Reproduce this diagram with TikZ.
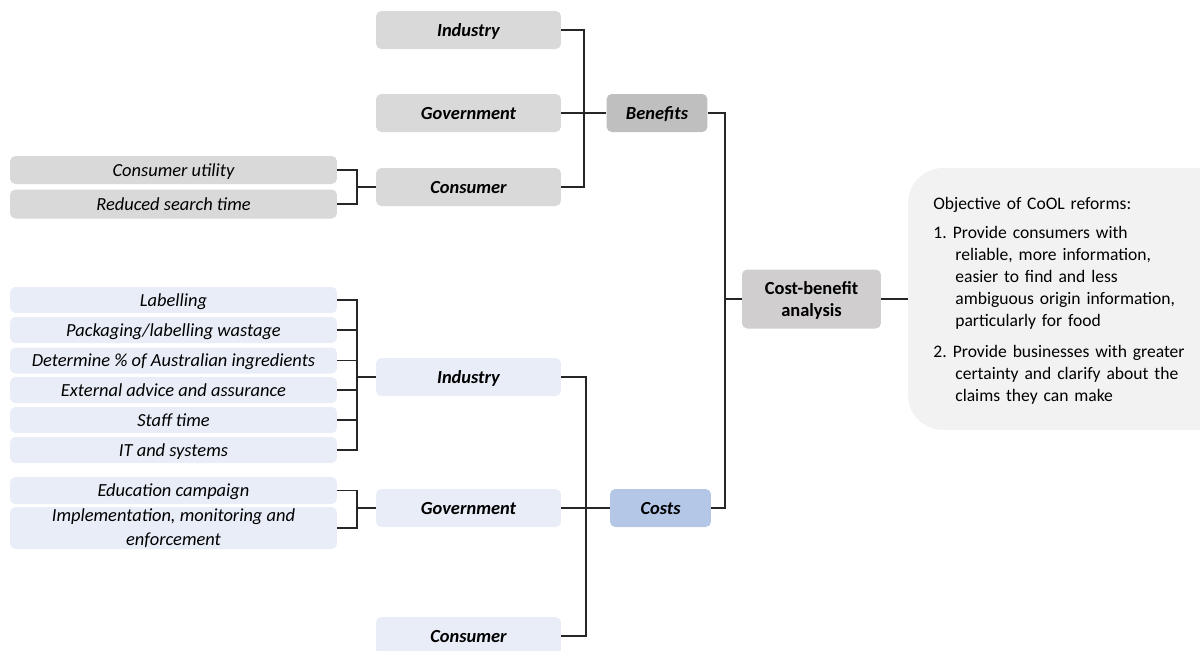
\documentclass[tikz,border=0pt]{standalone}
\usepackage{fontspec}
\setmainfont{Carlito}
\usepackage{tikz}

\definecolor{bengray}{HTML}{D9D9D9}
\definecolor{benhead}{HTML}{BFBFBF}
\definecolor{cbagray}{HTML}{D0CECE}
\definecolor{costblue}{HTML}{E8EDF7}
\definecolor{costhead}{HTML}{B4C7E7}
\definecolor{objgray}{HTML}{F2F2F2}

\newcommand{\cbsize}{\fontsize{10.5}{12.5}\selectfont}
\newcommand{\objsize}{\fontsize{10}{12.5}\selectfont}

\tikzset{
  cbox/.style={rounded corners=3pt, inner sep=0pt, align=center},
  grpbox/.style={cbox, minimum width=3.7cm, minimum height=0.76cm, text height=0.27cm, text depth=0pt, font=\cbsize\bfseries\itshape},
  headbox/.style={grpbox, minimum width=2.02cm},
  wideitem/.style={cbox, minimum width=6.54cm, minimum height=0.52cm, font=\cbsize\itshape},
  itembox/.style={wideitem, text height=0.24cm, text depth=0pt},
  link/.style={line width=0.6pt, black!85},
}

\begin{document}
\begin{tikzpicture}[x=0.02cm, y=-0.02cm]
\useasboundingbox (0,0) rectangle (1200,650);
\clip (0,0) rectangle (1200,650);

% benefits side
\node[grpbox, fill=bengray] (bind) at (468.5,30) {Industry};
\node[grpbox, fill=bengray] (bgov) at (468.5,113) {Government};
\node[grpbox, fill=bengray] (bcon) at (468.5,187) {Consumer};
\node[headbox, fill=benhead] (ben) at (657,113) {Benefits};
\node[itembox, fill=bengray, minimum height=0.56cm] (bu1) at (173.5,170) {Consumer utility};
\node[itembox, fill=bengray, minimum height=0.58cm] (bu2) at (173.5,204) {Reduced search time};

% costs side
\node[itembox, fill=costblue] (ci1) at (173.5,300) {Labelling};
\node[itembox, fill=costblue] (ci2) at (173.5,330) {Packaging/labelling wastage};
\node[itembox, fill=costblue] (ci3) at (173.5,360.5) {Determine \% of Australian ingredients};
\node[itembox, fill=costblue] (ci4) at (173.5,390) {External advice and assurance};
\node[itembox, fill=costblue] (ci5) at (173.5,420) {Staff time};
\node[itembox, fill=costblue] (ci6) at (173.5,450) {IT and systems};
\node[itembox, fill=costblue, minimum height=0.54cm] (gi1) at (173.5,490.5) {Education campaign};
\node[wideitem, fill=costblue, minimum height=0.84cm, font=\fontsize{10.5}{14}\selectfont\itshape] (gi2) at (173.5,528) {Implementation, monitoring and\\enforcement};
\node[grpbox, fill=costblue] (cind) at (468.5,377) {Industry};
\node[grpbox, fill=costblue] (cgov) at (468.5,508) {Government};
\node[grpbox, fill=costblue] (ccon) at (468.5,636) {Consumer};
\node[headbox, fill=costhead] (cost) at (660.5,508) {Costs};

% analysis and objective
\node[cbox, fill=cbagray, minimum width=2.78cm, minimum height=1.18cm, font=\cbsize\bfseries] (cba) at (811.5,299) {\rule{0pt}{9pt}Cost-benefit\\analysis};
\node[fill=objgray, rounded corners=0.7cm, minimum width=6.64cm, minimum height=5.24cm, inner sep=0pt] (obj) at (1074,299) {};
\node[anchor=base west, text width=5.6cm, align=left, inner sep=0pt, font=\objsize] (objtext) at (933,209) {%
Objective of CoOL reforms:\par\vspace{4.5pt}
\hangindent=0.44cm\hangafter=1 \makebox[0.39cm][l]{1.}Provide consumers with\newline reliable, more information,\newline easier to find and less\newline ambiguous origin information,\newline particularly for food\par\vspace{5pt}
\hangindent=0.44cm\hangafter=1 \makebox[0.39cm][l]{2.}Provide businesses with greater\newline certainty and clarify about the\newline claims they can make\par};

% connectors
\coordinate (bubus) at (357,187);
\coordinate (bbus) at (584,113);
\coordinate (cibus) at (357,377);
\coordinate (gibus) at (357,508);
\coordinate (cbus) at (586,508);
\coordinate (tbus) at (725,299);

\draw[link] (bu1.east) -| (bubus) |- (bu2.east);
\draw[link] (bubus) -- (bcon.west);
\draw[link] (bind.east) -| (bbus) |- (bcon.east);
\draw[link] (bgov.east) -- (ben.west);
\foreach \i in {1,...,6}
  \draw[link] (ci\i.east) -| (cibus);
\draw[link] (cibus) -- (cind.west);
\draw[link] (gi1.east) -| (gibus) |- (gi2.east);
\draw[link] (gibus) -- (cgov.west);
\draw[link] (cind.east) -| (cbus) |- (ccon.east);
\draw[link] (cgov.east) -- (cost.west);
\draw[link] (ben.east) -| (tbus) |- (cost.east);
\draw[link] (tbus) -- (cba.west);
\draw[link] (cba.east) -- (obj.west);
\end{tikzpicture}
\end{document}
